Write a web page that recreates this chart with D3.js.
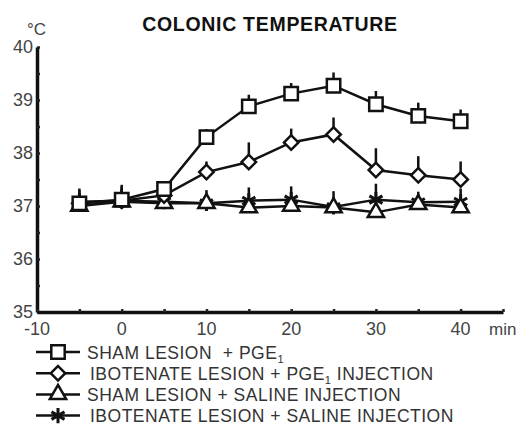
<!DOCTYPE html>
<html>
<head>
<meta charset="utf-8">
<script src="https://cdn.jsdelivr.net/npm/d3@7"></script>
<style>
  body { margin: 0; background: #fff; }
  svg { display: block; }
  text { font-family: "Liberation Sans", Arial, sans-serif; }
</style>
</head>
<body>
<svg id="chart" width="519" height="430"></svg>
<script>
const width = 519
const height = 430

// data
var times = [-5, 0, 5, 10, 15, 20, 25, 30, 35, 40]
var shamPGE = [37.05, 37.12, 37.32, 38.3, 38.88, 39.12, 39.27, 38.92, 38.7, 38.6]
var shamPGEErr = [0.15, 0.25, 0.15, 0.15, 0.22, 0.2, 0.25, 0.25, 0.25, 0.22]
var iboPGE = [37.05, 37.1, 37.2, 37.64, 37.83, 38.2, 38.35, 37.68, 37.58, 37.5]
var iboPGEErr = [0.2, 0.2, 0.15, 0.2, 0.37, 0.26, 0.32, 0.41, 0.36, 0.34]
var shamSal = [37.0, 37.08, 37.05, 37.05, 36.97, 37.0, 36.97, 36.88, 37.03, 36.97]
var shamSalErr = [0.3, 0.25, 0.15, 0.25, 0.15, 0.15, 0.2, 0.15, 0.15, 0.1]
var iboSal = [37.08, 37.1, 37.08, 37.05, 37.1, 37.12, 36.98, 37.12, 37.07, 37.08]
var iboSalErr = [0.25, 0.3, 0.2, 0.15, 0.25, 0.25, 0.3, 0.3, 0.2, 0.25]

var xTicks = [-10, -5, 0, 5, 10, 15, 20, 25, 30, 35, 40, 45]
var xLabels = [-10, 0, 10, 20, 30, 40]
var yTicks = [35, 35.5, 36, 36.5, 37, 37.5, 38, 38.5, 39, 39.5, 40]
var yLabels = [35, 36, 37, 38, 39, 40]

var seriesNames = ['SHAM LESION  + PGE', 'IBOTENATE LESION + PGE', 'SHAM LESION + SALINE INJECTION', 'IBOTENATE LESION + SALINE INJECTION']
var seriesSub = ['1', '1', '', '']
var seriesTail = ['', ' INJECTION', '', '']

var series = [
    { values: shamPGE, err: shamPGEErr, symbol: d3.symbolSquare, size: 180, rot: 0 },
    { values: iboPGE, err: iboPGEErr, symbol: d3.symbolSquare, size: 105, rot: 45 },
    { values: shamSal, err: shamSalErr, symbol: d3.symbolTriangle, size: 115, rot: 0 },
    { values: iboSal, err: iboSalErr, symbol: d3.symbolAsterisk, size: 160, rot: 0 }
]

var svg = d3.select('#chart')

var xScale = d3.scaleLinear().domain([-10, 45]).range([37, 503])
var yScale = d3.scaleLinear().domain([35, 40]).range([312, 47])

// Title
svg.append('text')
    .attr('x', 270)
    .attr('y', 31)
    .attr('text-anchor', 'middle')
    .style('font-size', '19.5px')
    .style('font-weight', 'bold')
    .style('letter-spacing', '0.7px')
    .attr('fill', '#111')
    .text('COLONIC TEMPERATURE')

// unit labels
svg.append('text')
    .attr('x', 27).attr('y', 35)
    .style('font-size', '17px')
    .attr('fill', '#444')
    .text('°C')

svg.append('text')
    .attr('x', 489).attr('y', 335)
    .style('font-size', '17px')
    .attr('fill', '#444')
    .text('min')

// Axes
const yAxis = d3.axisLeft(yScale)
    .tickValues(yTicks)
    .tickSizeInner(-3)
    .tickSizeOuter(0)
    .tickFormat('')
svg.append('g')
    .attr('transform', 'translate(37,0)')
    .call(yAxis)
    .call(g => g.select('.domain').attr('stroke-width', 3.5).attr('stroke', '#111'))
    .call(g => g.selectAll('.tick line').attr('stroke-width', 2.5).attr('stroke', '#222'))

svg.append('g')
    .selectAll('text')
    .data(yLabels)
    .join('text')
    .attr('x', 33)
    .attr('y', d => yScale(d) + 6)
    .attr('text-anchor', 'end')
    .style('font-size', '18px')
    .attr('fill', '#444')
    .text(d => d)

const xAxis = d3.axisBottom(xScale)
    .tickValues(xTicks)
    .tickSizeInner(-3)
    .tickSizeOuter(0)
    .tickFormat('')
svg.append('g')
    .attr('transform', 'translate(0,312)')
    .call(xAxis)
    .call(g => g.select('.domain').attr('stroke-width', 3.5).attr('stroke', '#111'))
    .call(g => g.selectAll('.tick line').attr('stroke-width', 2.5).attr('stroke', '#222'))

svg.append('g')
    .selectAll('text')
    .data(xLabels)
    .join('text')
    .attr('x', d => xScale(d))
    .attr('y', 335)
    .attr('text-anchor', 'middle')
    .style('font-size', '18px')
    .attr('fill', '#444')
    .text(d => d)

// Series: lines, error bars, markers
var line = d3.line()
    .x((d, i) => xScale(times[i]))
    .y(d => yScale(d))

var plot = svg.append('g')

function markerStyle(sel, s) {
    sel.attr('d', d3.symbol().type(s.symbol).size(s.size))
        .attr('fill', s.symbol == d3.symbolAsterisk ? 'none' : 'white')
        .attr('stroke', '#111')
        .attr('stroke-width', s.symbol == d3.symbolAsterisk ? 3 : 2.5)
}

series.slice().reverse().forEach(s => {
    let g = plot.append('g')
    g.selectAll('line.err')
        .data(s.values)
        .join('line')
        .attr('class', 'err')
        .attr('x1', (d, i) => xScale(times[i]))
        .attr('x2', (d, i) => xScale(times[i]))
        .attr('y1', d => yScale(d))
        .attr('y2', (d, i) => yScale(d + s.err[i]))
        .attr('stroke', '#111')
        .attr('stroke-width', 2.5)

    g.append('path')
        .datum(s.values)
        .attr('d', line)
        .attr('fill', 'none')
        .attr('stroke', '#111')
        .attr('stroke-width', 2.5)

    g.selectAll('path.mark')
        .data(s.values)
        .join('path')
        .attr('class', 'mark')
        .attr('transform', (d, i) => 'translate(' + xScale(times[i]) + ',' + yScale(d) + ') rotate(' + s.rot + ')')
        .call(markerStyle, s)
})

// Legend
var legend = svg.append('g')
series.forEach((s, i) => {
    let y = 352 + i * 21.2
    let lg = legend.append('g')
    lg.append('line')
        .attr('x1', 36).attr('x2', 80)
        .attr('y1', y).attr('y2', y)
        .attr('stroke', '#111')
        .attr('stroke-width', 2.5)
    lg.append('path')
        .attr('transform', 'translate(58,' + y + ') rotate(' + s.rot + ')')
        .call(markerStyle, s)
    let t = lg.append('text')
        .attr('x', i % 2 == 0 ? 87 : 90)
        .attr('y', y + 6.5)
        .style('font-size', '17.5px')
        .style('letter-spacing', '0.5px')
        .style('white-space', 'pre')
        .attr('fill', '#333')
    t.append('tspan').text(seriesNames[i])
    if (seriesSub[i]) {
        t.append('tspan').attr('dy', 4).style('font-size', '11px').text(seriesSub[i])
        t.append('tspan').attr('dy', -4).text(seriesTail[i])
    }
})
</script>
</body>
</html>
